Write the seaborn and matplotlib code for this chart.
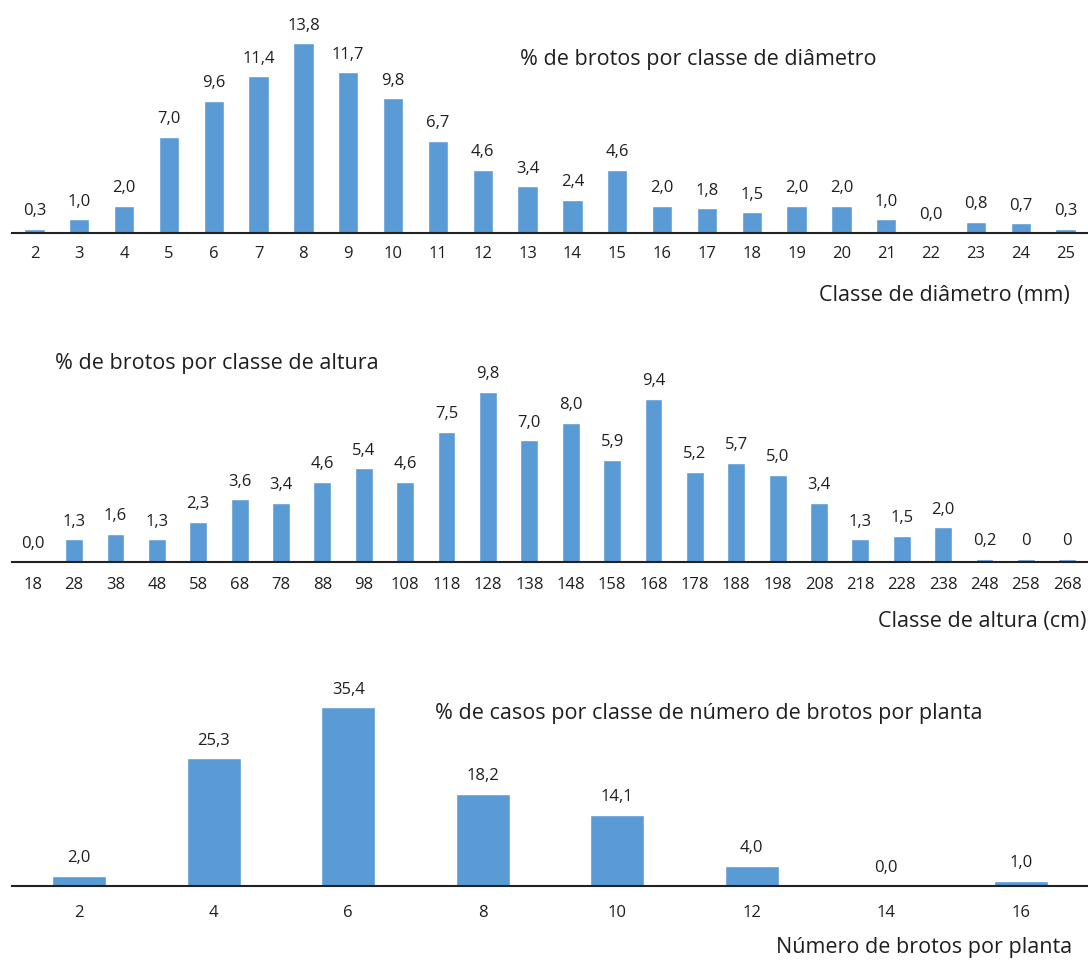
import matplotlib
matplotlib.use("Agg")
import matplotlib.pyplot as plt
import seaborn as sns
import pandas as pd

# Data
diam_classes = [str(v) for v in range(2, 26)]
diam_pct = [0.3, 1.0, 2.0, 7.0, 9.6, 11.4, 13.8, 11.7, 9.8, 6.7, 4.6, 3.4,
            2.4, 4.6, 2.0, 1.8, 1.5, 2.0, 2.0, 1.0, 0.0, 0.8, 0.7, 0.3]
diam_labels = ["0,3", "1,0", "2,0", "7,0", "9,6", "11,4", "13,8", "11,7", "9,8", "6,7",
               "4,6", "3,4", "2,4", "4,6", "2,0", "1,8", "1,5", "2,0", "2,0", "1,0",
               "0,0", "0,8", "0,7", "0,3"]

alt_classes = [str(v) for v in range(18, 269, 10)]
alt_pct = [0.0, 1.3, 1.6, 1.3, 2.3, 3.6, 3.4, 4.6, 5.4, 4.6, 7.5, 9.8, 7.0,
           8.0, 5.9, 9.4, 5.2, 5.7, 5.0, 3.4, 1.3, 1.5, 2.0, 0.2, 0.2, 0.2]
alt_labels = ["0,0", "1,3", "1,6", "1,3", "2,3", "3,6", "3,4", "4,6", "5,4", "4,6",
              "7,5", "9,8", "7,0", "8,0", "5,9", "9,4", "5,2", "5,7", "5,0", "3,4",
              "1,3", "1,5", "2,0", "0,2", "0", "0"]

num_classes = ["2", "4", "6", "8", "10", "12", "14", "16"]
num_pct = [2.0, 25.3, 35.4, 18.2, 14.1, 4.0, 0.0, 1.0]
num_labels = ["2,0", "25,3", "35,4", "18,2", "14,1", "4,0", "0,0", "1,0"]

sns.set_style("white")
plt.rcParams["font.family"] = ["Open Sans", "DejaVu Sans"]
plt.rcParams["text.color"] = "#1f1f1f"
plt.rcParams["xtick.color"] = "#1f1f1f"

BAR = "#5B9BD5"
W, H = 1088, 960
NUM_FS = 12
TXT_FS = 15.5
fig = plt.figure(figsize=(W / 100, H / 100), dpi=100)


def panel(rect, cats, vals, labels, ylim, width, pad, title, title_xy, xlabel, xlabel_xy):
    ax = fig.add_axes(rect)
    df = pd.DataFrame({"cat": cats, "val": vals})
    sns.barplot(data=df, x="cat", y="val", order=cats, color=BAR, saturation=1,
                width=width, ax=ax)
    ax.bar_label(ax.containers[0], labels=labels, padding=7, fontsize=NUM_FS)
    ax.set_xlim(-0.5, len(cats) - 0.5)
    ax.set_ylim(*ylim)
    ax.set_xlabel("")
    ax.set_ylabel("")
    ax.set_yticks([])
    ax.tick_params(axis="x", length=0, pad=pad, labelsize=NUM_FS)
    for s in ["top", "right", "left"]:
        ax.spines[s].set_visible(False)
    ax.spines["bottom"].set_color("#222222")
    ax.spines["bottom"].set_linewidth(1.5)
    ax.patch.set_alpha(0)
    fig.text(title_xy[0] / W, 1 - title_xy[1] / H, title, ha="left", va="center", fontsize=TXT_FS)
    fig.text(xlabel_xy[0] / W, 1 - xlabel_xy[1] / H, xlabel, ha="right", va="center", fontsize=TXT_FS)
    return ax


left = 12 / W
wid = 1 - left

panel([left, 1 - 233 / H, wid, 206 / H], diam_classes, diam_pct, diam_labels, (0, 15),
      0.45, 9.5, "% de brotos por classe de diâmetro", (520, 60),
      "Classe de diâmetro (mm)", (1070, 296))

panel([left, 1 - 562 / H, wid, 191 / H], alt_classes, alt_pct, alt_labels, (0, 11),
      0.43, 10.5, "% de brotos por classe de altura", (55, 363),
      "Classe de altura (cm)", (1086, 622))

panel([left, 1 - 886 / H, wid, 202 / H], num_classes, num_pct, num_labels, (0, 40),
      0.4, 13.5, "% de casos por classe de número de brotos por planta", (435, 713),
      "Número de brotos por planta", (1072, 947))

fig.savefig("out.png", dpi=100, facecolor="white")
